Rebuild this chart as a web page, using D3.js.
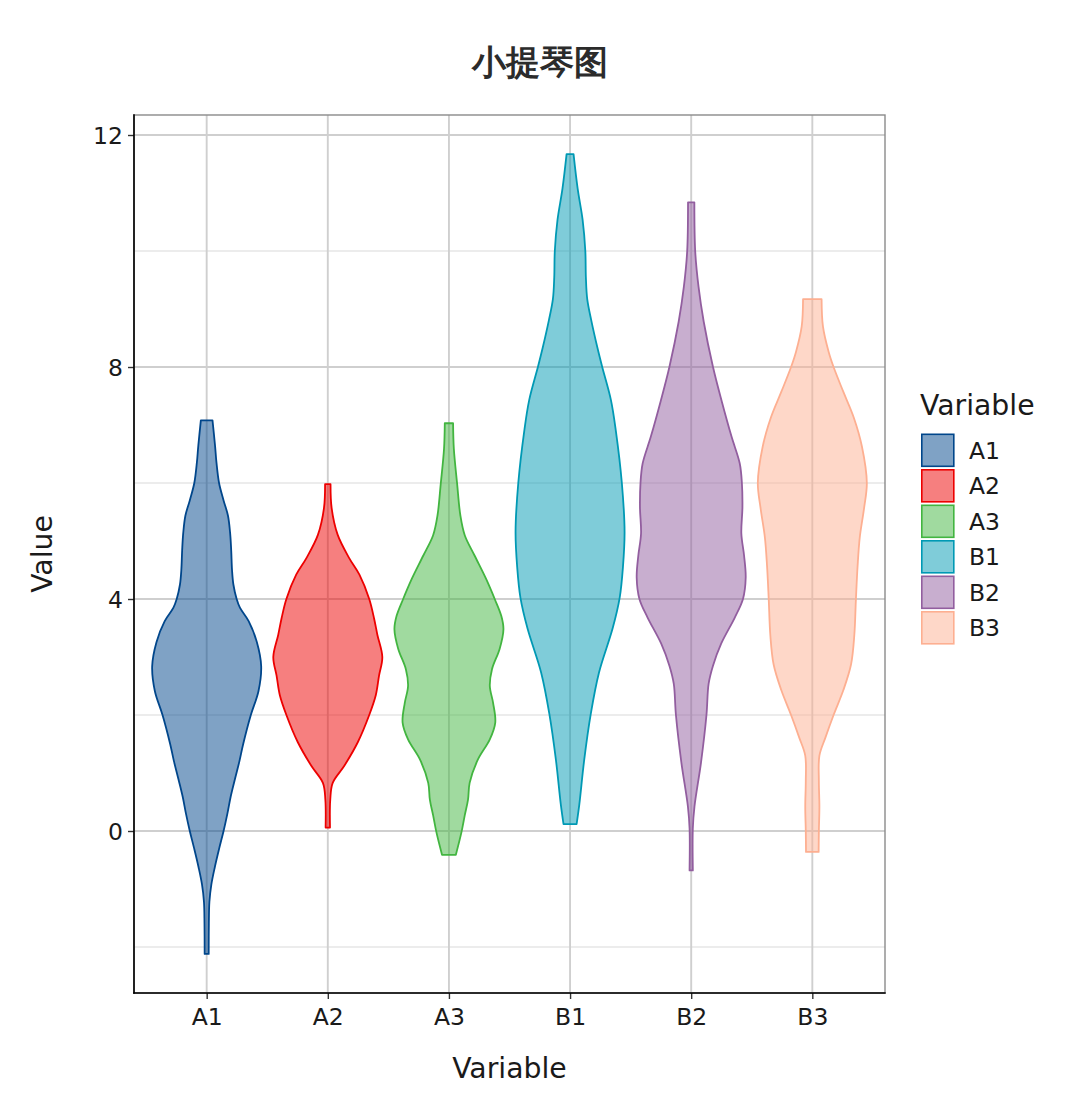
<!DOCTYPE html>
<html>
<head>
<meta charset="utf-8">
<script src="https://cdn.jsdelivr.net/npm/d3@7"></script>
<style>
  body { margin: 0; background: #ffffff; }
  text { font-family: "DejaVu Sans", sans-serif; }
</style>
</head>
<body>
<svg id="chart" width="1080" height="1115"></svg>
<script>
// ---------------- data ----------------
const categories = ["A1", "A2", "A3", "B1", "B2", "B3"];
const lineColors = ["#00468B", "#ED0000", "#42B540", "#0099B4", "#925E9F", "#FDAF91"];
const yTickValues = [0, 4, 8, 12];
const yMinorValues = [-2, 2, 6, 10];

// violin outlines: [value, relative half-width (1 = widest)]
const violinA1 = [[7.08,0.107],[6.65,0.153],[6.35,0.18],[6.0,0.227],[5.7,0.31],[5.44,0.39],[5.14,0.43],[4.84,0.45],[4.5,0.465],[4.25,0.49],[4.0,0.55],[3.85,0.61],[3.62,0.77],[3.26,0.92],[2.84,1.0],[2.41,0.95],[2.0,0.81],[1.5,0.67],[1.2,0.6],[0.9,0.52],[0.59,0.44],[0.3,0.38],[0.0,0.31],[-0.3,0.23],[-0.62,0.15],[-0.92,0.086],[-1.22,0.05],[-1.6,0.04],[-2.12,0.037]];
const violinA2 = [[5.98,0.05],[5.57,0.07],[5.11,0.18],[4.71,0.39],[4.42,0.58],[4.0,0.76],[3.66,0.85],[3.38,0.91],[3.0,1.0],[2.68,0.94],[2.34,0.88],[2.0,0.76],[1.53,0.55],[1.12,0.30],[0.83,0.09],[0.54,0.045],[0.06,0.04]];
const violinA3 = [[7.03,0.076],[6.59,0.09],[5.99,0.15],[5.44,0.21],[5.10,0.29],[4.75,0.47],[4.35,0.68],[4.0,0.84],[3.71,0.96],[3.48,1.0],[3.14,0.93],[2.79,0.79],[2.50,0.75],[2.21,0.81],[1.87,0.85],[1.58,0.75],[1.23,0.53],[0.83,0.38],[0.54,0.35],[0.27,0.29],[-0.02,0.23],[-0.41,0.127]];
const violinB1 = [[11.67,0.064],[11.07,0.14],[10.54,0.23],[10.0,0.28],[9.55,0.29],[9.17,0.315],[8.80,0.39],[8.34,0.50],[8.0,0.59],[7.43,0.75],[6.90,0.84],[6.0,0.95],[5.16,1.0],[4.55,0.97],[4.02,0.91],[3.49,0.78],[2.73,0.53],[2.02,0.38],[1.23,0.26],[0.46,0.17],[0.12,0.12]];
const violinB2 = [[10.84,0.058],[9.99,0.074],[9.38,0.135],[8.78,0.23],[8.0,0.40],[7.41,0.56],[6.80,0.74],[6.34,0.89],[6.0,0.93],[5.58,0.94],[5.13,0.92],[4.75,0.97],[4.37,1.0],[4.0,0.95],[3.68,0.80],[3.23,0.55],[2.85,0.40],[2.54,0.32],[2.0,0.28],[1.18,0.18],[0.42,0.06],[0.05,0.03],[-0.68,0.03]];
const violinB3 = [[9.17,0.17],[8.70,0.195],[8.26,0.30],[8.0,0.39],[7.57,0.57],[7.13,0.76],[6.63,0.91],[6.0,1.0],[5.57,0.95],[5.06,0.87],[4.56,0.83],[4.0,0.80],[3.37,0.77],[2.87,0.71],[2.43,0.57],[2.0,0.39],[1.61,0.24],[1.30,0.13],[0.86,0.12],[0.42,0.13],[0.0,0.12],[-0.36,0.116]];
const violins = [violinA1, violinA2, violinA3, violinB1, violinB2, violinB3];

const titleText = "小提琴图";
const xTitle = "Variable";
const yTitle = "Value";
const legendTitle = "Variable";

// ---------------- layout ----------------
const W = 1080, H = 1115;
const panel = { left: 134, right: 885, top: 115, bottom: 993 };
const svg = d3.select("#chart");

const x = d3.scalePoint().domain(categories).range([panel.left, panel.right]).padding(0.6);
const y = d3.scaleLinear().domain([-2.793, 12.345]).range([panel.bottom, panel.top]);
const w = d3.scaleLinear().domain([0, 1]).range([0, x.step() * 0.45]);
const color = d3.scaleOrdinal().domain(categories).range(lineColors);

// background
svg.append("rect").attr("width", W).attr("height", H).attr("fill", "#ffffff");

// grid
const grid = svg.append("g");
grid.selectAll(".minor").data(yMinorValues).join("line")
  .attr("x1", panel.left).attr("x2", panel.right)
  .attr("y1", d => y(d)).attr("y2", d => y(d))
  .attr("stroke", "#d9d9d9").attr("stroke-width", 1.1);
grid.selectAll(".major").data(yTickValues).join("line")
  .attr("x1", panel.left).attr("x2", panel.right)
  .attr("y1", d => y(d)).attr("y2", d => y(d))
  .attr("stroke", "#cfcfcf").attr("stroke-width", 1.9);
grid.selectAll(".vmajor").data(categories).join("line")
  .attr("x1", d => x(d)).attr("x2", d => x(d))
  .attr("y1", panel.top).attr("y2", panel.bottom)
  .attr("stroke", "#cfcfcf").attr("stroke-width", 1.9);

// violins
const area = d3.area()
  .curve(d3.curveCatmullRom.alpha(0.5));

categories.forEach((c, i) => {
  const cx = x(c);
  area.y(d => y(d[0])).x0(d => cx - w(d[1])).x1(d => cx + w(d[1]));
  svg.append("path")
    .datum(violins[i])
    .attr("d", area)
    .attr("fill", color(c)).attr("fill-opacity", 0.5)
    .attr("stroke", color(c)).attr("stroke-width", 1.8)
    .attr("stroke-linejoin", "round");
});

// panel border (top/right grey) and axis lines (black)
svg.append("rect")
  .attr("x", panel.left).attr("y", panel.top)
  .attr("width", panel.right - panel.left).attr("height", panel.bottom - panel.top)
  .attr("fill", "none").attr("stroke", "#8a8a8a").attr("stroke-width", 1.4);

const yAxis = d3.axisLeft(y).tickValues(yTickValues).tickSize(6).tickPadding(5).tickFormat(d3.format("d"));
const gy = svg.append("g").attr("transform", `translate(${panel.left},0)`).call(yAxis);
gy.select(".domain").remove();
gy.selectAll(".tick line").attr("stroke", "#333").attr("stroke-width", 1.4);
gy.selectAll(".tick text").attr("font-size", 23.5).attr("fill", "#1a1a1a")
  .attr("font-family", "DejaVu Sans").attr("dy", "0.36em");

const xAxis = d3.axisBottom(x).tickSize(6).tickPadding(5);
const gx = svg.append("g").attr("transform", `translate(0,${panel.bottom})`).call(xAxis);
gx.select(".domain").remove();
gx.selectAll(".tick line").attr("stroke", "#333").attr("stroke-width", 1.4);
gx.selectAll(".tick text").attr("font-size", 23.5).attr("fill", "#1a1a1a")
  .attr("font-family", "DejaVu Sans").attr("dy", null).attr("y", 31.5);

svg.append("line").attr("x1", panel.left).attr("x2", panel.left)
  .attr("y1", panel.top - 0.7).attr("y2", panel.bottom + 0.8)
  .attr("stroke", "#000").attr("stroke-width", 1.6);
svg.append("line").attr("x1", panel.left - 0.8).attr("x2", panel.right + 0.7)
  .attr("y1", panel.bottom).attr("y2", panel.bottom)
  .attr("stroke", "#000").attr("stroke-width", 1.6);

// titles
svg.append("text").attr("x", 540).attr("y", 74).attr("text-anchor", "middle")
  .attr("font-family", "'Noto Sans CJK SC', sans-serif").attr("font-weight", "bold")
  .attr("font-size", 34).attr("fill", "#2b2b2b").text(titleText);

svg.append("text").attr("x", (panel.left + panel.right) / 2).attr("y", 1078)
  .attr("text-anchor", "middle").attr("font-size", 28.3).attr("fill", "#1a1a1a").text(xTitle);

svg.append("text").attr("transform", `translate(52,${(panel.top + panel.bottom) / 2}) rotate(-90)`)
  .attr("text-anchor", "middle").attr("font-size", 28.3).attr("fill", "#1a1a1a").text(yTitle);

// legend
const legend = svg.append("g");
legend.append("text").attr("x", 920).attr("y", 415).attr("font-size", 28.3)
  .attr("fill", "#1a1a1a").text(legendTitle);
const keyStep = 35.5, keyTop = 433.5, keySize = 32;
const items = legend.selectAll(".item").data(categories).join("g")
  .attr("transform", (d, i) => `translate(921,${keyTop + i * keyStep})`);
items.append("rect").attr("x", 0.8).attr("y", 0.8).attr("width", keySize).attr("height", keySize)
  .attr("fill", d => color(d)).attr("fill-opacity", 0.5)
  .attr("stroke", d => color(d)).attr("stroke-width", 1.6);
items.append("text").attr("x", 48).attr("y", keySize / 2 + 0.8).attr("dy", "0.36em")
  .attr("font-size", 23.5).attr("fill", "#1a1a1a").text(d => d);
</script>
</body>
</html>
